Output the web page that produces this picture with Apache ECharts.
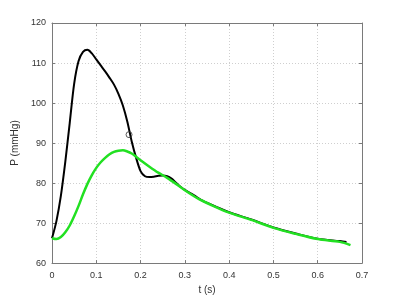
<!DOCTYPE html>
<html><head><meta charset="utf-8">
<script src="https://cdn.jsdelivr.net/npm/echarts@6/dist/echarts.min.js"></script>
<style>html,body{margin:0;padding:0;background:#fff}#c{width:400px;height:300px}</style>
</head><body><div id="c"></div>
<script>
var tBlack = [0, 0.01, 0.02, 0.03, 0.04, 0.05, 0.06, 0.07, 0.08, 0.09, 0.10, 0.11, 0.12, 0.13, 0.14, 0.15, 0.16, 0.17, 0.18, 0.19, 0.20, 0.21, 0.22, 0.23, 0.24, 0.25, 0.26, 0.27, 0.28, 0.29, 0.30, 0.32, 0.34, 0.37, 0.40, 0.45, 0.50, 0.55, 0.60, 0.65, 0.665];
var pBlack = [66.2, 70.5, 76.8, 85.3, 95.0, 104.8, 110.5, 112.8, 113.3, 112.4, 110.9, 109.4, 107.9, 106.3, 104.6, 102.3, 99.4, 95.4, 90.4, 86.3, 83.0, 81.7, 81.5, 81.6, 81.8, 81.9, 81.7, 81.1, 80.1, 79.1, 78.3, 77.0, 75.6, 74.1, 72.7, 70.9, 68.9, 67.4, 66.1, 65.5, 65.3];
var tGreen = [0, 0.01, 0.02, 0.03, 0.04, 0.05, 0.06, 0.07, 0.08, 0.09, 0.10, 0.11, 0.12, 0.13, 0.14, 0.15, 0.16, 0.17, 0.18, 0.19, 0.20, 0.22, 0.24, 0.26, 0.28, 0.30, 0.33, 0.36, 0.40, 0.45, 0.50, 0.55, 0.60, 0.65, 0.674];
var pGreen = [66.2, 66.0, 66.5, 67.7, 69.4, 71.7, 74.3, 77.2, 79.8, 82.0, 83.8, 85.2, 86.3, 87.2, 87.8, 88.1, 88.2, 87.9, 87.4, 86.6, 85.7, 84.1, 82.6, 81.3, 79.8, 78.2, 76.1, 74.5, 72.6, 70.8, 68.8, 67.3, 66.0, 65.3, 64.5];
var markerT = [0.174];
var markerP = [92.1];
var xTicks = [0, 0.1, 0.2, 0.3, 0.4, 0.5, 0.6, 0.7];
var yTicks = [60, 70, 80, 90, 100, 110, 120];

function pairs(a, b) { return a.map(function (v, i) { return [v, b[i]]; }); }

var font = 'Liberation Sans, Arial, sans-serif';
var axisCol = '#7a7a7a';
function baseX(pos, show) {
  return {
    type: 'value', position: pos, min: xTicks[0], max: xTicks[xTicks.length - 1], interval: 0.1,
    axisLine: { show: true, onZero: false, lineStyle: { color: axisCol, width: 1 } },
    axisTick: { show: true, inside: true, length: 3, lineStyle: { color: axisCol } },
    axisLabel: { show: show, color: '#333', fontSize: 9, fontFamily: font, margin: 8 },
    splitLine: { show: show, lineStyle: { color: '#cfcfcf', type: [1, 2], width: 1 } }
  };
}
function baseY(pos, show) {
  return {
    type: 'value', position: pos, min: yTicks[0], max: yTicks[yTicks.length - 1], interval: 10,
    axisLine: { show: true, onZero: false, lineStyle: { color: axisCol, width: 1 } },
    axisTick: { show: true, inside: true, length: 3, lineStyle: { color: axisCol } },
    axisLabel: { show: show, color: '#333', fontSize: 9, fontFamily: font, margin: 6 },
    splitLine: { show: show, lineStyle: { color: '#cfcfcf', type: [1, 2], width: 1 } }
  };
}
var x0 = baseX('bottom', true);
x0.name = 't (s)'; x0.nameLocation = 'middle'; x0.nameGap = 20;
x0.nameTextStyle = { color: '#333', fontSize: 10, fontFamily: font };
var y0 = baseY('left', true);
y0.name = 'P (mmHg)'; y0.nameLocation = 'middle'; y0.nameGap = 28;
y0.nameTextStyle = { color: '#333', fontSize: 10, fontFamily: font };

var chart = echarts.init(document.getElementById('c'), null, { renderer: 'canvas' });
chart.setOption({
  animation: false,
  backgroundColor: '#fff',
  grid: { left: 52, right: 38, top: 23, bottom: 34, containLabel: false },
  xAxis: [x0, baseX('top', false)],
  yAxis: [y0, baseY('right', false)],
  series: [
    { type: 'line', data: pairs(tBlack, pBlack), smooth: 0.3, showSymbol: false, lineStyle: { color: '#000', width: 2 }, z: 2 },
    { type: 'line', data: pairs(tGreen, pGreen), smooth: 0.3, showSymbol: false, lineStyle: { color: '#22e022', width: 2.5 }, z: 3 },
    { type: 'scatter', data: pairs(markerT, markerP), symbol: 'circle', symbolSize: 6, itemStyle: { color: 'rgba(0,0,0,0)', borderColor: '#333', borderWidth: 1 }, z: 4 }
  ]
});
</script></body></html>
